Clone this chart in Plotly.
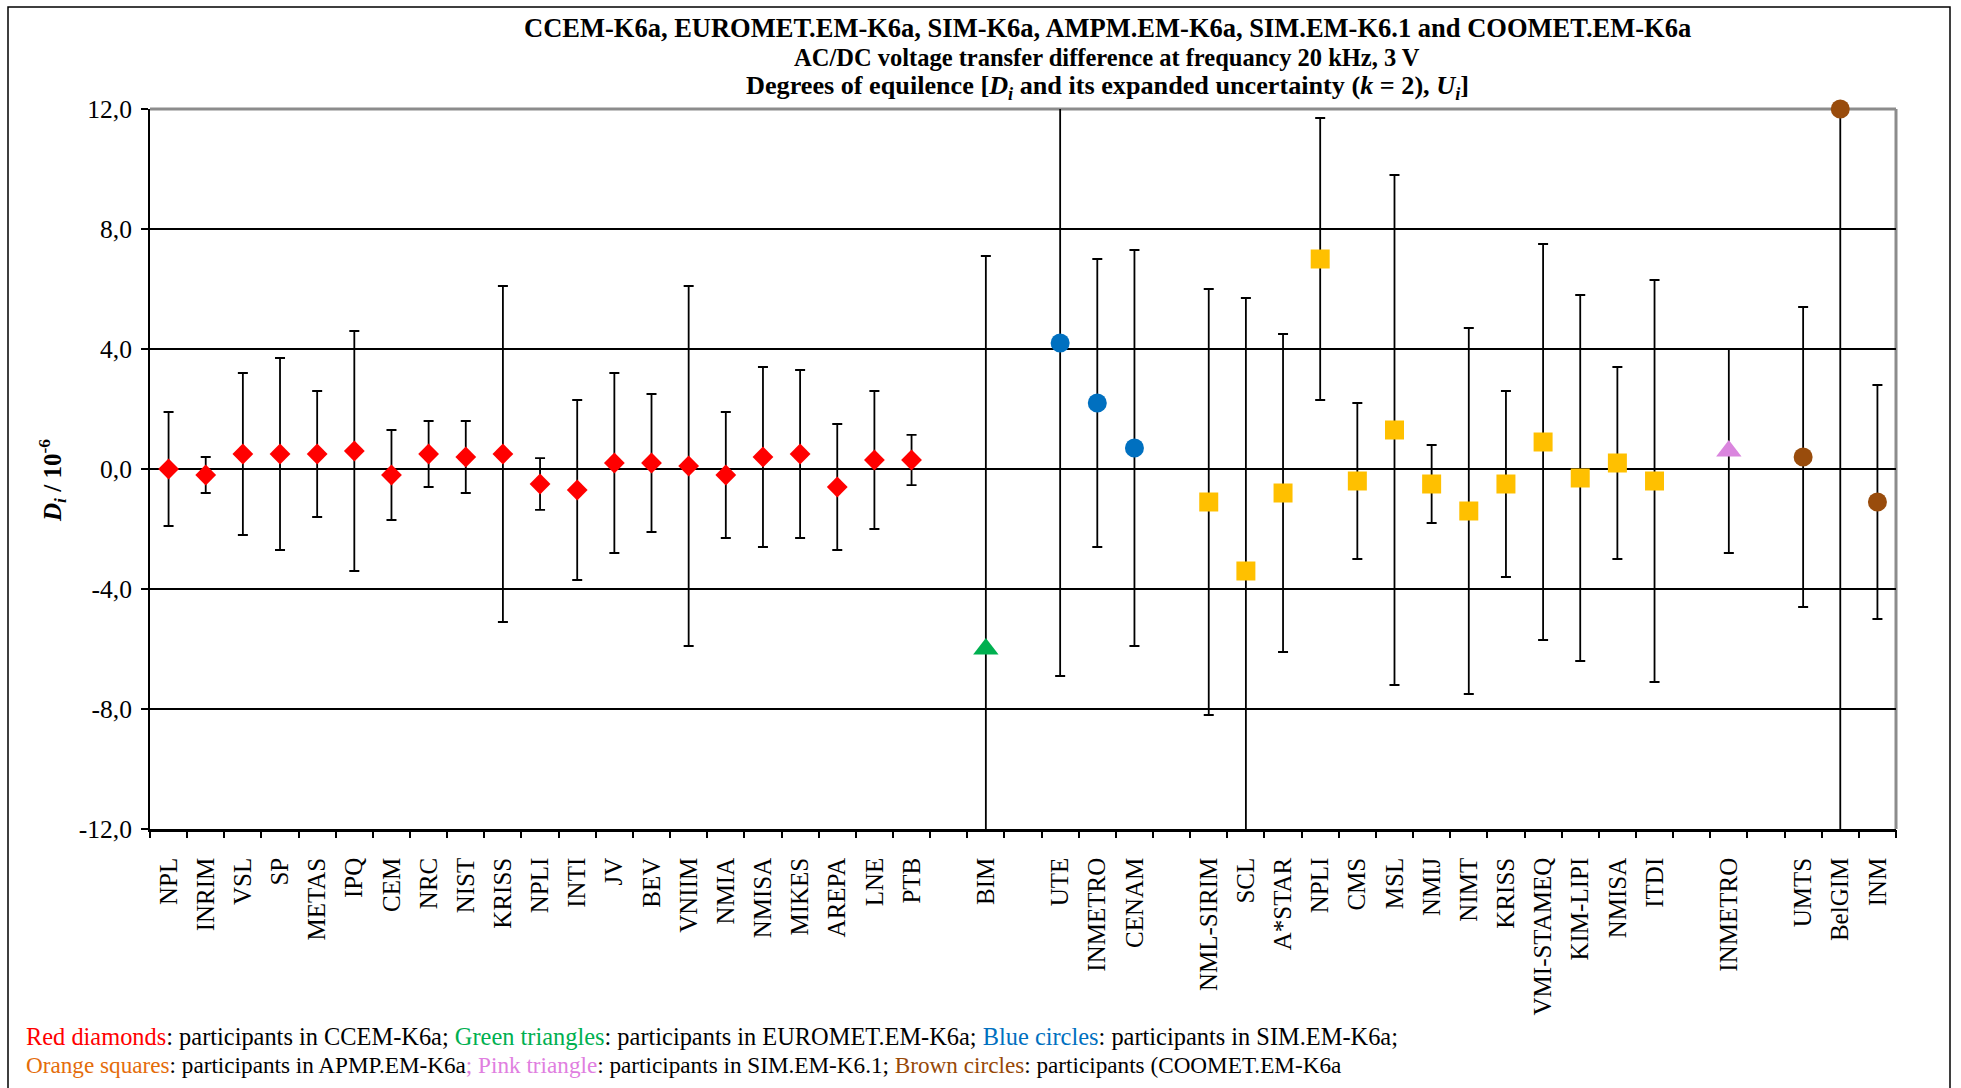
import plotly.graph_objects as go

# ---------------- data ----------------
ccem_labels = ["NPL", "INRIM", "VSL", "SP", "METAS", "IPQ", "CEM", "NRC", "NIST", "KRISS",
               "NPLI", "INTI", "JV", "BEV", "VNIIM", "NMIA", "NMISA", "MIKES", "AREPA", "LNE", "PTB"]
ccem_D = [0.0, -0.2, 0.5, 0.5, 0.5, 0.6, -0.2, 0.5, 0.4, 0.5,
          -0.5, -0.7, 0.2, 0.2, 0.1, -0.2, 0.4, 0.5, -0.6, 0.3, 0.3]
ccem_U = [1.9, 0.6, 2.7, 3.2, 2.1, 4.0, 1.5, 1.1, 1.2, 5.6,
          0.86, 3.0, 3.0, 2.3, 6.0, 2.1, 3.0, 2.8, 2.1, 2.3, 0.84]

euromet_labels = ["BIM"]
euromet_D = [-6.0]
euromet_U = [13.1]

sim_labels = ["UTE", "INMETRO", "CENAM"]
sim_D = [4.2, 2.2, 0.7]
sim_U = [11.1, 4.8, 6.6]

apmp_labels = ["NML-SIRIM", "SCL", "A*STAR", "NPLI", "CMS", "MSL", "NMIJ", "NIMT", "KRISS",
               "VMI-STAMEQ", "KIM-LIPI", "NMISA", "ITDI"]
apmp_D = [-1.1, -3.4, -0.8, 7.0, -0.4, 1.3, -0.5, -1.4, -0.5, 0.9, -0.3, 0.2, -0.4]
apmp_U = [7.1, 9.1, 5.3, 4.7, 2.6, 8.5, 1.3, 6.1, 3.1, 6.6, 6.1, 3.2, 6.7]

sim61_labels = ["INMETRO"]
sim61_D = [0.6]
sim61_U = [3.4]

coomet_labels = ["UMTS", "BelGIM", "INM"]
coomet_D = [0.4, 12.0, -1.1]
coomet_U = [5.0, 25.0, 3.9]

y_ticks = [-12, -8, -4, 0, 4, 8, 12]
y_ticktext = ["-12,0", "-8,0", "-4,0", "0,0", "4,0", "8,0", "12,0"]

# ---------------- styles ----------------
FONT = "Liberation Serif, Times New Roman, serif"
groups = [
    (ccem_labels, ccem_D, ccem_U, dict(symbol="diamond", color="#FF0000", size=16)),
    (euromet_labels, euromet_D, euromet_U, dict(symbol="triangle-up", color="#00B050", size=22)),
    (sim_labels, sim_D, sim_U, dict(symbol="circle", color="#0070C0", size=19)),
    (apmp_labels, apmp_D, apmp_U, dict(symbol="square", color="#FFC000", size=19)),
    (sim61_labels, sim61_D, sim61_U, dict(symbol="triangle-up", color="#DA85DE", size=22)),
    (coomet_labels, coomet_D, coomet_U, dict(symbol="circle", color="#994C0C", size=19)),
]

# category slots: groups one after another, one empty slot between groups
positions, tick_vals, tick_text = [], [], []
slot = 0
for labs, D, U, _ in groups:
    pos = list(range(slot, slot + len(labs)))
    positions.append(pos)
    tick_vals += pos
    tick_text += labs
    slot += len(labs) + 1
n_slots = slot - 1
boundaries = [i - 0.5 for i in range(n_slots + 1)]

fig = go.Figure()
# error bars (clipped to plot area)
for (labs, D, U, m), pos in zip(groups, positions):
    fig.add_trace(go.Scatter(
        x=pos, y=D, mode="markers",
        marker=dict(size=1, opacity=0),
        error_y=dict(type="data", array=U, visible=True, color="black",
                     thickness=1.8, width=5),
        cliponaxis=True, showlegend=False, hoverinfo="skip"))
# markers (not clipped)
for (labs, D, U, m), pos in zip(groups, positions):
    fig.add_trace(go.Scatter(
        x=pos, y=D, mode="markers", text=labs,
        marker=dict(symbol=m["symbol"], color=m["color"], size=m["size"],
                    line=dict(width=0)),
        cliponaxis=False, showlegend=False))
# helper trace for the boundary-tick axis
fig.add_trace(go.Scatter(x=[], y=[], xaxis="x2", showlegend=False))

L, R, T, B = 150, 65, 109, 259
W, H = 1961, 1088
pw, ph = W - L - R, H - T - B


def px(xp):
    return (xp - L) / pw


def py(yp):
    return (H - B - yp) / ph


fig.update_layout(
    width=W, height=H,
    margin=dict(l=L, r=R, t=T, b=B, pad=0),
    paper_bgcolor="white", plot_bgcolor="white",
    font=dict(family=FONT, color="black", size=24),
    showlegend=False,
    xaxis=dict(range=[-0.5, n_slots - 0.5], tickvals=tick_vals, ticktext=tick_text,
               tickangle=-90, ticks="", tickfont=dict(size=25, family=FONT),
               showgrid=False, zeroline=False, showline=True, linecolor="black",
               linewidth=2.5, ticklabelstandoff=16),
    xaxis2=dict(overlaying="x", anchor="y", side="bottom",
                range=[-0.5, n_slots - 0.5], tickvals=boundaries, ticks="outside",
                ticklen=8, tickwidth=1.5, tickcolor="black", showticklabels=False,
                showgrid=False, zeroline=False, showline=False),
    yaxis=dict(range=[-12, 12], tickvals=y_ticks, ticktext=y_ticktext,
               ticks="outside", ticklen=7, tickwidth=1.5, tickcolor="black",
               tickfont=dict(size=25.5, family=FONT), showgrid=True,
               gridcolor="black", gridwidth=1.5, zeroline=False,
               showline=True, linecolor="black", linewidth=2, ticklabelstandoff=4),
)

# plot frame (grey top / right), outer black frame
fig.add_shape(type="line", xref="paper", yref="paper", x0=0, x1=1, y0=1, y1=1,
              line=dict(color="#8C8C8C", width=3), layer="between")
fig.add_shape(type="line", xref="paper", yref="paper", x0=1, x1=1, y0=0, y1=1,
              line=dict(color="#8C8C8C", width=3), layer="between")
fig.add_shape(type="rect", xref="paper", yref="paper", x0=px(8), x1=px(1950),
              y0=py(1095), y1=py(7), line=dict(color="black", width=1.5), layer="below")

# titles
title_lines = [
    "<b>CCEM-K6a, EUROMET.EM-K6a, SIM-K6a, AMPM.EM-K6a, SIM.EM-K6.1 and COOMET.EM-K6a</b>",
    "<b>AC/DC voltage transfer difference at frequancy 20 kHz, 3 V</b>",
    "<b>Degrees of equilence [<i>D</i><sub><i>i</i></sub> and its expanded uncertainty "
    "(<i>k</i> = 2), <i>U</i><sub><i>i</i></sub>]</b>",
]
for txt, yc, fs in zip(title_lines, [27.5, 57.5, 87.5], [26.5, 24.5, 26.2]):
    fig.add_annotation(text=txt, xref="paper", yref="paper", x=px(1107), y=py(yc),
                       xanchor="center", yanchor="middle", showarrow=False,
                       font=dict(size=fs, family=FONT, color="black"))

# y-axis title
fig.add_annotation(text="<b><i>D</i><sub><i>i</i></sub> / 10<sup>-6</sup></b>",
                   xref="paper", yref="paper", x=px(52), y=py(481), textangle=-90,
                   xanchor="center", yanchor="middle", showarrow=False,
                   font=dict(size=25, family=FONT, color="black"))

# footnote legend
legend_line1 = ('<span style="color:#FF0000">Red diamonds</span>: participants in CCEM-K6a; '
                '<span style="color:#00B050">Green triangles</span>: participants in EUROMET.EM-K6a; '
                '<span style="color:#0070C0">Blue circles</span>: participants in SIM.EM-K6a;')
legend_line2 = ('<span style="color:#E46C0A">Orange squares</span>: participants in APMP.EM-K6a'
                '<span style="color:#E07EE0">; Pink triangle</span>: participants in SIM.EM-K6.1; '
                '<span style="color:#974806">Brown circles</span>: participants (COOMET.EM-K6a')
for txt, yc, fs in zip([legend_line1, legend_line2], [1036, 1065], [24.4, 23.2]):
    fig.add_annotation(text=txt, xref="paper", yref="paper", x=px(24), y=py(yc),
                       xanchor="left", yanchor="middle", showarrow=False,
                       font=dict(size=fs, family=FONT, color="black"))

fig.write_html("out.html", config={"displayModeBar": False},
               post_script="document.body.style.margin='0';")
